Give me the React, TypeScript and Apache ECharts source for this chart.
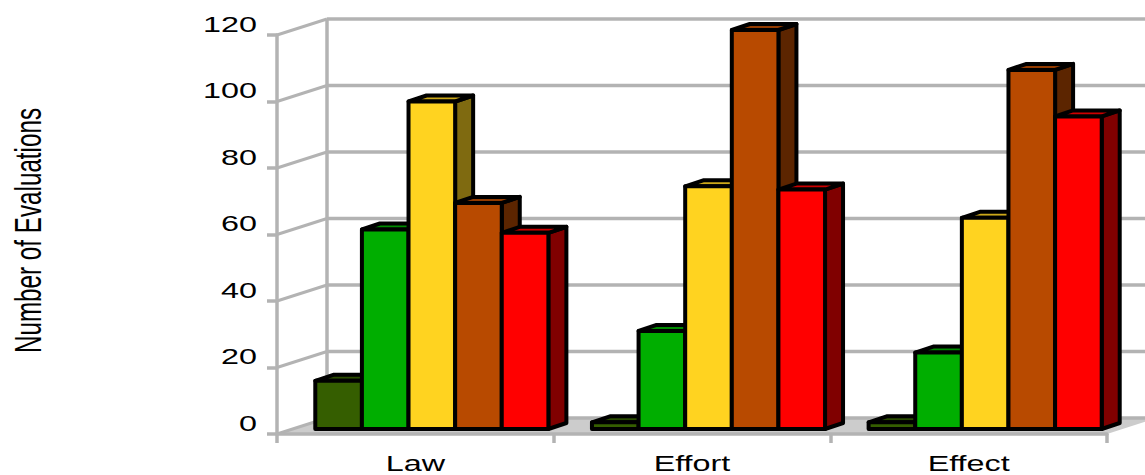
import React, { useEffect, useRef } from "react";
import * as echarts from "echarts";

const categories = ["Law", "Effort", "Effect"];
const tickValues = [0, 20, 40, 60, 80, 100, 120];
const axisTitle = "Number of Evaluations";

const seriesA = [14.5, 2, 2];
const seriesB = [60, 29.5, 23];
const seriesC = [98.5, 73, 63.5];
const seriesD = [68, 120, 108];
const seriesE = [59, 72, 94];

const allSeries = [seriesA, seriesB, seriesC, seriesD, seriesE];
const faceColors = ["#355E00", "#00AE00", "#FFD320", "#B84A00", "#FF0000"];
const topColors = ["#2A4B00", "#008B00", "#CCA81A", "#933B00", "#CC0000"];
const sideColors = ["#1A2F00", "#005700", "#7F6A10", "#5C2500", "#800000"];

const GRAY = "#B3B3B3";
const FLOOR = "#CCCCCC";
const FONT = '"Liberation Sans", Arial, sans-serif';
const WALL_DX = 50;
const WALL_DY = -16;
const BAR_OFF_X = 16.5;
const BAR_OFF_Y = -5;
const BAR_DX = 18;
const BAR_DY = -6;
const BAR_FRACTION = 0.1685;
const LABEL_SCALE = 1.47;

function wallRender(_params: any, api: any) {
  const v = api.value(0);
  const band = api.size([1, 0])[0];
  const p = api.coord([0, v]);
  const x0 = p[0] - band / 2;
  const y = p[1];
  const wallX = x0 + WALL_DX;
  const wallY = y + WALL_DY;
  const right = x0 + band * categories.length + WALL_DX;
  const lineStyle = { stroke: GRAY, lineWidth: 3.5, fill: "none" };
  return {
    type: "group",
    children: [
      { type: "line", shape: { x1: x0, y1: y, x2: wallX, y2: wallY }, style: { ...lineStyle, lineWidth: 3 } },
      { type: "line", shape: { x1: wallX, y1: wallY, x2: right, y2: wallY }, style: lineStyle },
    ],
  };
}

function wallVerticalRender(_params: any, api: any) {
  const band = api.size([1, 0])[0];
  const top = api.coord([0, tickValues[tickValues.length - 1]]);
  const bottom = api.coord([0, 0]);
  const x0 = top[0] - band / 2;
  const end = x0 + band * categories.length;
  return {
    type: "group",
    children: [
      {
        type: "polygon",
        shape: {
          points: [
            [x0, bottom[1]],
            [x0 + WALL_DX, bottom[1] + WALL_DY],
            [end + WALL_DX, bottom[1] + WALL_DY],
            [end, bottom[1]],
          ],
        },
        style: { fill: FLOOR },
      },
      {
        type: "line",
        shape: { x1: x0 + WALL_DX, y1: top[1] + WALL_DY, x2: x0 + WALL_DX, y2: bottom[1] + WALL_DY },
        style: { stroke: GRAY, lineWidth: 3.5 },
      },
    ],
  };
}

function barRender(barIndex: number) {
  return (_params: any, api: any) => {
    const cat = api.value(0);
    const val = api.value(1);
    const band = api.size([1, 0])[0];
    const w = band * BAR_FRACTION;
    const base = api.coord([cat, 0]);
    const top = api.coord([cat, val]);
    const x = base[0] - (w * allSeries.length) / 2 + barIndex * w + BAR_OFF_X;
    const yb = base[1] + BAR_OFF_Y;
    const yt = top[1] + BAR_OFF_Y;
    const edge = { stroke: "#000", lineWidth: 4, lineJoin: "round" };
    return {
      type: "group",
      children: [
        {
          type: "polygon",
          shape: { points: [[x + w, yt], [x + w + BAR_DX, yt + BAR_DY], [x + w + BAR_DX, yb + BAR_DY], [x + w, yb]] },
          style: { fill: sideColors[barIndex], ...edge },
        },
        {
          type: "polygon",
          shape: { points: [[x, yt], [x + BAR_DX, yt + BAR_DY], [x + w + BAR_DX, yt + BAR_DY], [x + w, yt]] },
          style: { fill: topColors[barIndex], ...edge },
        },
        {
          type: "rect",
          shape: { x, y: yt, width: w, height: yb - yt },
          style: { fill: faceColors[barIndex], ...edge },
        },
      ],
    };
  };
}

function valueLabelRender(_params: any, api: any) {
  const v = api.value(0);
  const band = api.size([1, 0])[0];
  const p = api.coord([0, v]);
  return {
    type: "text",
    x: p[0] - band / 2 - 20,
    y: p[1] - 11,
    scaleX: LABEL_SCALE,
    style: {
      text: String(v),
      fontFamily: FONT,
      fontSize: 22,
      fill: "#000",
      align: "right",
      verticalAlign: "middle",
    },
  };
}

function categoryLabelRender(params: any, api: any) {
  const p = api.coord([api.value(0), 0]);
  return {
    type: "text",
    x: p[0],
    y: p[1] + 29,
    scaleX: LABEL_SCALE,
    style: {
      text: categories[params.dataIndex],
      fontFamily: FONT,
      fontSize: 22,
      fill: "#000",
      align: "center",
      verticalAlign: "middle",
    },
  };
}

export default function App() {
  const ref = useRef<HTMLDivElement>(null);

  useEffect(() => {
    document.body.style.margin = "0";
    const chart = echarts.init(ref.current!, undefined, { renderer: "svg" });
    const gridAxis = { lineStyle: { color: GRAY, width: 3.5 } };
    const option: any = {
      animation: false,
      backgroundColor: "#fff",
      grid: { left: 277, top: 35, width: 830, height: 399, containLabel: false },
      xAxis: {
        type: "category",
        data: categories,
        z: 5,
        axisLine: { show: true, ...gridAxis },
        axisTick: { show: true, alignWithLabel: false, length: 9, ...gridAxis },
        axisLabel: { show: false },
        splitLine: { show: false },
      },
      yAxis: {
        type: "value",
        min: 0,
        max: 120,
        interval: 20,
        z: 5,
        axisLine: { show: true, ...gridAxis },
        axisTick: { show: true, length: 10, ...gridAxis },
        axisLabel: { show: false },
        splitLine: { show: false },
      },
      graphic: [
        {
          type: "text",
          x: 29,
          y: 230.5,
          rotation: Math.PI / 2,
          scaleX: 0.655,
          style: {
            text: axisTitle,
            fontFamily: FONT,
            fontSize: 37,
            fill: "#000",
            textAlign: "center",
            textVerticalAlign: "middle",
          },
        },
      ],
      series: [
        {
          type: "custom",
          name: "floor",
          z: 1,
          clip: false,
          silent: true,
          data: [[0]],
          renderItem: wallVerticalRender,
        },
        {
          type: "custom",
          name: "wall",
          z: 1,
          clip: false,
          silent: true,
          data: tickValues.map((v) => [v]),
          encode: { y: 0 },
          renderItem: wallRender,
        },
        ...allSeries.map((vals, i) => ({
          type: "custom",
          name: "series" + i,
          z: 10,
          clip: false,
          data: vals.map((v, c) => [c, v]),
          encode: { x: 0, y: 1 },
          renderItem: barRender(i),
        })),
        {
          type: "custom",
          name: "valueLabels",
          z: 12,
          clip: false,
          silent: true,
          data: tickValues.map((v) => [v]),
          encode: { y: 0 },
          renderItem: valueLabelRender,
        },
        {
          type: "custom",
          name: "categoryLabels",
          z: 12,
          clip: false,
          silent: true,
          data: categories.map((_c, i) => [i]),
          encode: { x: 0 },
          renderItem: categoryLabelRender,
        },
      ],
    };
    chart.setOption(option);
    return () => chart.dispose();
  }, []);

  return <div ref={ref} style={{ width: 1145, height: 475 }} />;
}
